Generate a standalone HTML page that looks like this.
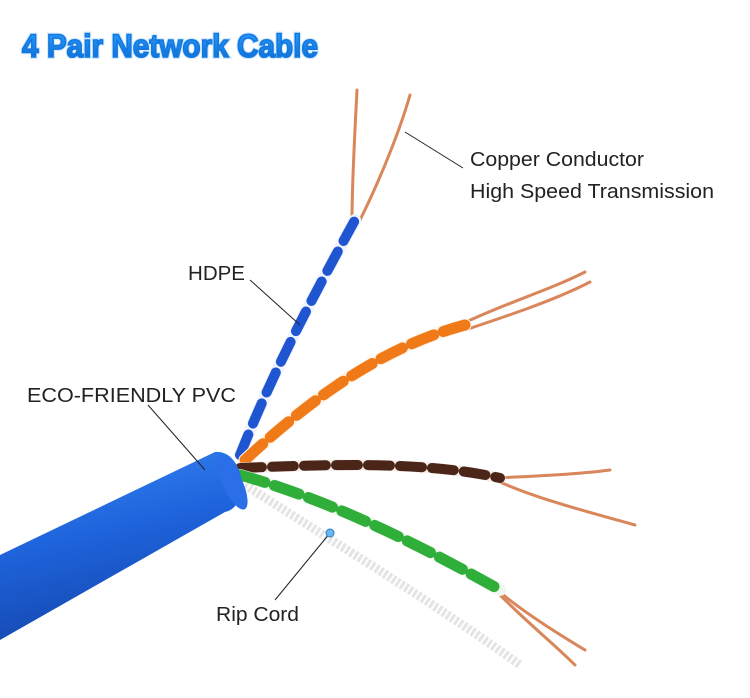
<!DOCTYPE html>
<html><head><meta charset="utf-8">
<style>
html,body{margin:0;padding:0;background:#fff;}
svg{display:block;}
text{font-family:"Liberation Sans",sans-serif;}
</style></head>
<body>
<svg width="750" height="698" viewBox="0 0 750 698">
<defs>
<linearGradient id="tg" x1="0" y1="0" x2="0" y2="1"><stop offset="0" stop-color="#2ea0ff"/><stop offset="1" stop-color="#0a6ad0"/></linearGradient>
<linearGradient id="jg" x1="0" y1="0" x2="0.3" y2="1"><stop offset="0" stop-color="#3a86f5"/><stop offset="0.5" stop-color="#1e64dc"/><stop offset="1" stop-color="#1548b0"/></linearGradient>
</defs>
<text x="22" y="57" font-size="32" font-weight="bold" fill="none" stroke="#d8ecff" stroke-width="4" textLength="296" lengthAdjust="spacingAndGlyphs">4 Pair Network Cable</text>
<text x="22" y="57" font-size="32" font-weight="bold" fill="url(#tg)" stroke="#1278e0" stroke-width="1.6" textLength="296" lengthAdjust="spacingAndGlyphs">4 Pair Network Cable</text>

<g stroke="#d9865a" stroke-width="3" fill="none" stroke-linecap="round">
<path d="M352 222 C352 180 355 130 357 90"/>
<path d="M360 220 C380 180 400 130 410 95"/>
<path d="M460 325 C500 305 550 290 585 272"/>
<path d="M465 330 C510 315 555 300 590 282"/>
<path d="M495 478 C540 476 580 474 610 470"/>
<path d="M500 482 C540 500 600 515 635 525"/>
<path d="M495 588 C520 610 560 635 585 650"/>
<path d="M500 595 C530 625 555 645 575 665"/>
</g>
<path d="M245 485 C330 540 430 600 520 665" stroke="#e4e4e4" stroke-width="9" fill="none" stroke-dasharray="3 2"/>
<g fill="none" stroke-linecap="round">
<path d="M240 455 C270 380 300 320 355 220" stroke="#eef3ff" stroke-width="12"/>
<path d="M240 455 C270 380 300 320 355 220" stroke="#1f55d0" stroke-width="10" stroke-dasharray="22 12"/>
<path d="M245 460 C320 390 390 345 465 325" stroke="#fff4ea" stroke-width="13"/>
<path d="M245 460 C320 390 390 345 465 325" stroke="#f07a18" stroke-width="11" stroke-dasharray="24 10"/>
<path d="M240 468 C320 465 420 460 500 478" stroke="#f3ece9" stroke-width="11"/>
<path d="M240 468 C320 465 420 460 500 478" stroke="#4a2518" stroke-width="10" stroke-dasharray="22 10"/>
<path d="M240 475 C330 500 420 545 500 590" stroke="#eef8ee" stroke-width="12"/>
<path d="M240 475 C330 500 420 545 500 590" stroke="#2fae3a" stroke-width="11" stroke-dasharray="26 10"/>
</g>
<path d="M0 555 L215 452 C232 450 242 470 242 485 C242 500 235 510 225 512 L0 640 Z" fill="url(#jg)"/>
<ellipse cx="232" cy="482" rx="10" ry="30" fill="#2a6fe8" transform="rotate(-25 232 482)"/>

<g stroke="#222" stroke-width="1">
<line x1="463" y1="168" x2="405" y2="132"/>
<line x1="250" y1="280" x2="300" y2="325"/>
<line x1="148" y1="405" x2="205" y2="470"/>
<line x1="275" y1="600" x2="330" y2="533"/>
</g>
<circle cx="330" cy="533" r="4" fill="#6ab8f0" stroke="#2a7ac0"/>

<g font-size="20" fill="#222">
<text x="470" y="166" textLength="174" lengthAdjust="spacingAndGlyphs">Copper Conductor</text>
<text x="470" y="198" textLength="244" lengthAdjust="spacingAndGlyphs">High Speed Transmission</text>
<text x="188" y="280" textLength="57" lengthAdjust="spacingAndGlyphs">HDPE</text>
<text x="27" y="402" textLength="209" lengthAdjust="spacingAndGlyphs">ECO-FRIENDLY PVC</text>
<text x="216" y="621" textLength="83" lengthAdjust="spacingAndGlyphs">Rip Cord</text>
</g>
</svg>
</body></html>
